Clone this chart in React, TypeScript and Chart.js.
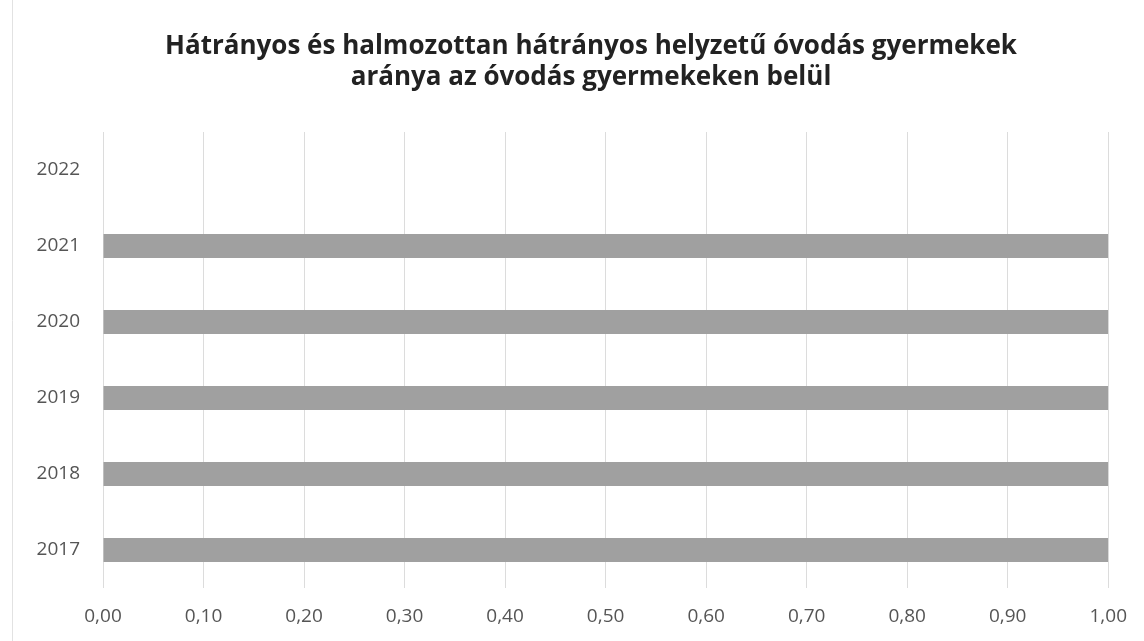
import React, { useEffect, useRef } from "react";
import { Chart, registerables } from "chart.js";

Chart.register(...registerables);

const titleLines = [
  "Hátrányos és halmozottan hátrányos helyzetű óvodás gyermekek",
  "aránya az óvodás gyermekeken belül",
];
const years = ["2017", "2018", "2019", "2020", "2021", "2022"];
const shares: (number | null)[] = [1.0, 1.0, 1.0, 1.0, 1.0, null];
const xMin = 0;
const xMax = 1;
const xStep = 0.1;

const frame = {
  id: "frame",
  beforeDraw(chart: any) {
    const ctx = chart.ctx;
    ctx.save();
    ctx.fillStyle = "#ffffff";
    ctx.fillRect(0, 0, chart.width, chart.height);
    ctx.strokeStyle = "#e2e2e2";
    ctx.lineWidth = 1;
    ctx.beginPath();
    ctx.moveTo(12.5, 0);
    ctx.lineTo(12.5, chart.height);
    ctx.stroke();
    ctx.fillStyle = "#222222";
    ctx.font = "bold 26px 'Open Sans'";
    ctx.textAlign = "center";
    ctx.textBaseline = "alphabetic";
    ctx.fillText(titleLines[0], 591, 54);
    ctx.fillText(titleLines[1], 591, 85);
    ctx.restore();
  },
};

export default function App() {
  const ref = useRef<HTMLCanvasElement>(null);
  useEffect(() => {
    if (!ref.current) return;
    const chart = new Chart(ref.current, {
      type: "bar",
      data: {
        labels: years,
        datasets: [
          {
            data: shares,
            backgroundColor: "#a0a0a0",
            borderWidth: 0,
            barPercentage: 0.63,
            categoryPercentage: 0.5,
          },
        ],
      },
      plugins: [frame],
      options: {
        indexAxis: "y",
        animation: false,
        responsive: false,
        maintainAspectRatio: false,
        layout: { padding: { left: 0, right: 34, top: 132, bottom: 0 } },
        plugins: {
          legend: { display: false },
          tooltip: { enabled: false },
          title: { display: false },
        },
        scales: {
          x: {
            min: xMin,
            max: xMax,
            ticks: {
              stepSize: xStep,
              color: "#555555",
              font: { family: "Open Sans", size: 19 },
              padding: 17,
              callback: (v: any) => Number(v).toFixed(2).replace(".", ","),
            },
            grid: { color: "#dcdcdc", drawTicks: false },
            border: { display: false },
            afterFit: (s: any) => {
              s.height = 641 - 588;
            },
          },
          y: {
            reverse: true,
            ticks: {
              color: "#555555",
              font: { family: "Open Sans", size: 19 },
              padding: 23,
            },
            grid: { display: false, drawTicks: false },
            border: { display: false },
            afterFit: (s: any) => {
              s.width = 103;
            },
          },
        },
      },
    });
    return () => chart.destroy();
  }, []);
  return (
    <div style={{ position: "fixed", left: 0, top: 0, width: 1144, height: 641, background: "#fff" }}>
      <canvas ref={ref} width={1144} height={641} style={{ width: 1144, height: 641 }} />
    </div>
  );
}
